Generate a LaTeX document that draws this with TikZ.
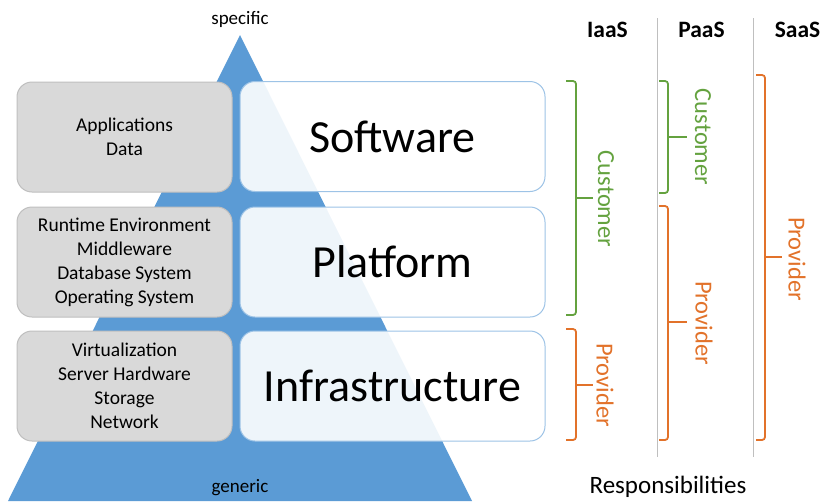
\documentclass[tikz,border=0pt]{standalone}
\usepackage{fontspec}
\setmainfont{Carlito}
\definecolor{triblue}{HTML}{5B9BD5}
\definecolor{boxline}{HTML}{9DC3E6}
\definecolor{grayfill}{HTML}{D9D9D9}
\definecolor{grayline}{HTML}{BFBFBF}
\definecolor{custgreen}{HTML}{64A23F}
\definecolor{provorange}{HTML}{E2722A}
\definecolor{sepgray}{HTML}{BFBFBF}
\tikzset{
  graybox/.style={draw=grayline, line width=1pt, fill=grayfill, rounded corners=15pt,
    minimum width=215pt, minimum height=110pt, align=center, inner sep=0pt,
    font=\fontsize{19.5}{24}\selectfont},
  whitebox/.style={draw=boxline, line width=1pt, fill=white, fill opacity=0.9, text opacity=1,
    rounded corners=15pt, minimum width=305pt, minimum height=110pt, inner sep=0pt,
    font=\fontsize{46}{50}\selectfont},
  smalllabel/.style={font=\fontsize{19}{21}\selectfont, inner sep=0pt},
  header/.style={font=\bfseries\fontsize{23.5}{26}\selectfont, inner sep=0pt},
  bracelbl/.style={font=\fontsize{24.5}{26}\selectfont, rotate=-90, inner sep=0pt},
  custbrace/.style={draw=custgreen, line width=1.8pt, rounded corners=3pt},
  provbrace/.style={draw=provorange, line width=1.8pt, rounded corners=3pt},
  sepline/.style={draw=sepgray, line width=0.9pt}
}
\begin{document}
\begin{tikzpicture}[x=1pt,y=-1pt]
\useasboundingbox (0,0) rectangle (825,501);
% pyramid
\fill[triblue] (240,35) -- (472,501) -- (8,501) -- cycle;
\node[smalllabel] (spec) at (240,19) {specific};
\node[smalllabel] (gen) at (240,488) {generic};
% gray boxes
\node[graybox] (appl) at (124.5,137) {Applications\\Data};
\node[graybox] (plat) at (124.5,262) {Runtime Environment\\Middleware\\Database System\\Operating System};
\node[graybox] (infr) at (124.5,386) {Virtualization\\Server Hardware\\Storage\\Network};
% white boxes
\node[whitebox] (soft) at (392.5,136.5) {Software};
\node[whitebox] (platf) at (392.5,262) {Platform};
\node[whitebox] (infra) at (392.5,386) {Infrastructure};
% headers
\node[header] (iaas) at (607.5,30) {IaaS};
\node[header] (paas) at (701.5,30) {PaaS};
\node[header] (saas) at (797.5,30) {SaaS};
\node[font=\fontsize{25}{28}\selectfont, inner sep=0pt] (resp) at (668,487) {Responsibilities};
% separators
\coordinate (s1t) at (657,18); \coordinate (s1b) at (657,457);
\coordinate (s2t) at (753,18); \coordinate (s2b) at (753,457);
\draw[sepline] (s1t) -- (s1b);
\draw[sepline] (s2t) -- (s2b);
% IaaS braces
\draw[custbrace] (566,81) -- (576,81) -- (576,315) -- (566,315);
\draw[custgreen, line width=1.8pt] (576,198) -- (593,198);
\node[bracelbl, text=custgreen] (ic) at (606,199) {Customer};
\draw[provbrace] (566,329) -- (576,329) -- (576,440) -- (566,440);
\draw[provorange, line width=1.8pt] (576,385) -- (593,385);
\node[bracelbl, text=provorange] (ip) at (605,385) {Provider};
% PaaS braces
\draw[custbrace] (659,81) -- (668,81) -- (668,193) -- (659,193);
\draw[custgreen, line width=1.8pt] (668,137) -- (687,137);
\node[bracelbl, text=custgreen] (pc) at (703,137) {Customer};
\draw[provbrace] (659,206) -- (668,206) -- (668,440) -- (659,440);
\draw[provorange, line width=1.8pt] (668,322) -- (687,322);
\node[bracelbl, text=provorange] (pp) at (704,323) {Provider};
% SaaS brace
\draw[provbrace] (756,75) -- (765,75) -- (765,440) -- (756,440);
\draw[provorange, line width=1.8pt] (765,257) -- (782,257);
\node[bracelbl, text=provorange] (sp) at (797,259) {Provider};
\end{tikzpicture}
\end{document}
